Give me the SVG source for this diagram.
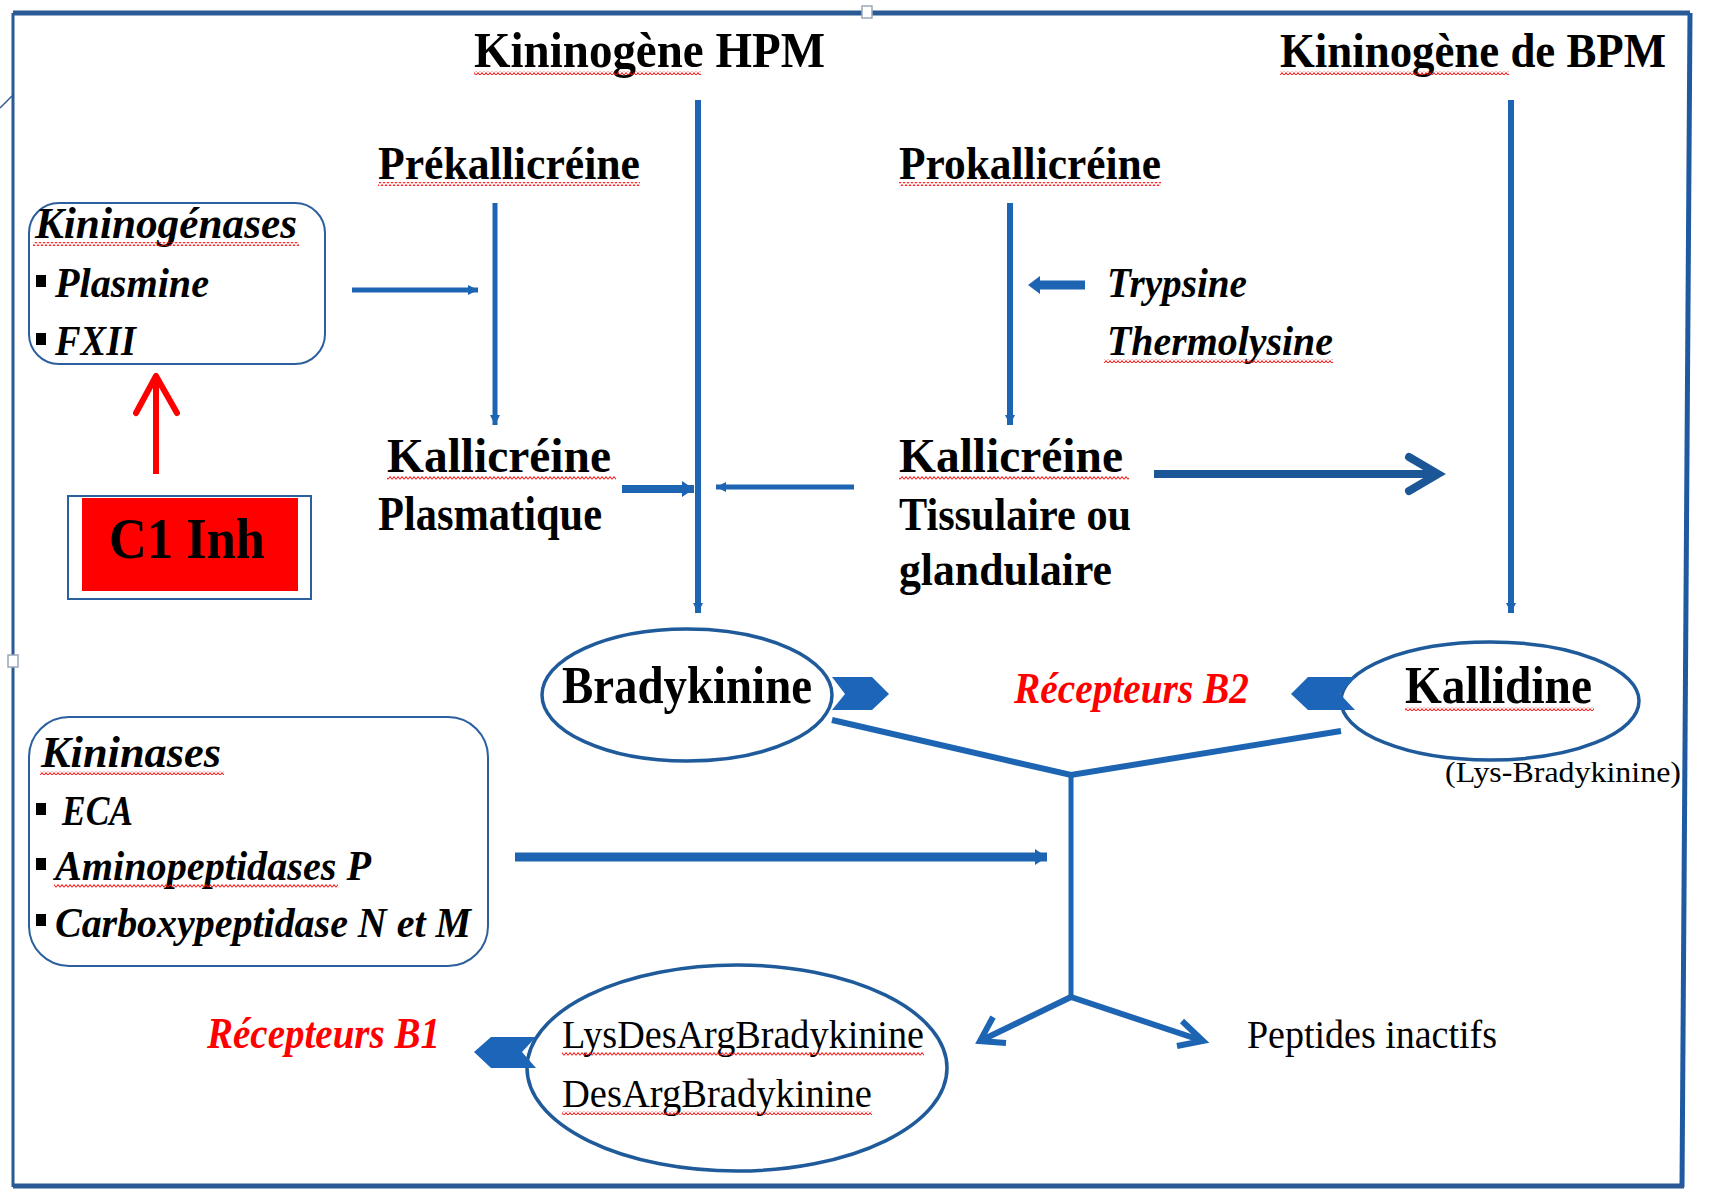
<svg xmlns="http://www.w3.org/2000/svg" width="1710" height="1197" viewBox="0 0 1710 1197">
<style>
.b{font-family:"Liberation Serif",serif;font-weight:bold;fill:#000}
.bi{font-family:"Liberation Serif",serif;font-weight:bold;font-style:italic;fill:#000}
.r{font-family:"Liberation Serif",serif;fill:#000}
.red{fill:#ff0000}
.con{stroke:#1d65b2;fill:none;stroke-linecap:butt}
.box{fill:none;stroke:#2b5f9e;stroke-width:2}
.ell{fill:#fff;stroke:#1f5a9a;stroke-width:3.5}
.rec{fill:#1d65b9}
.sq{fill:url(#squig)}
.bul{fill:#000}
</style>
<defs>
<pattern id="squig" patternUnits="userSpaceOnUse" width="4" height="4">
<polyline points="0,3.5 2,0.5 4,3.5" fill="none" stroke="#ff0000" stroke-width="1"/>
</pattern>
<marker id="tip" markerUnits="userSpaceOnUse" markerWidth="14" markerHeight="14" viewBox="0 0 14 14" refX="10" refY="7" orient="auto">
<path d="M0,2 L10,7 L0,12 z" fill="#1d65b2"/>
</marker>
<marker id="tip2" markerUnits="userSpaceOnUse" markerWidth="18" markerHeight="18" viewBox="0 0 18 18" refX="12" refY="9" orient="auto">
<path d="M0,1 L12,9 L0,17 z" fill="#1d65b2"/>
</marker>
</defs>
<rect width="1710" height="1197" fill="#fff"/>

<g id="frame">
<line x1="13" y1="13" x2="1690" y2="13" stroke="#2a5a96" stroke-width="5"/>
<line x1="13" y1="13" x2="13" y2="1187" stroke="#2a5a96" stroke-width="3"/>
<line x1="1690" y1="13" x2="1682" y2="1187" stroke="#1f5aa0" stroke-width="5"/>
<line x1="13" y1="1186" x2="1684" y2="1186" stroke="#2a5a96" stroke-width="5"/>
<rect x="862" y="6" width="10" height="12" fill="#fff" stroke="#9aa8b8" stroke-width="1.5"/>
<rect x="8" y="655" width="10" height="12" fill="#fff" stroke="#9aa8b8" stroke-width="1.5"/>
<line x1="0" y1="108" x2="12" y2="96" stroke="#2a5a96" stroke-width="1.5"/>
</g>

<g id="connectors">
<line class="con" x1="698" y1="100" x2="698" y2="613" stroke-width="6" marker-end="url(#tip)"/>
<line class="con" x1="1511" y1="100" x2="1511" y2="613" stroke-width="6" marker-end="url(#tip)"/>
<line class="con" x1="495" y1="203" x2="495" y2="425" stroke-width="5" marker-end="url(#tip)"/>
<line class="con" x1="1010" y1="203" x2="1010" y2="425" stroke-width="6" marker-end="url(#tip)"/>
<line class="con" x1="352" y1="290" x2="478" y2="290" stroke-width="5" marker-end="url(#tip)"/>
<line class="con" x1="1085" y1="285" x2="1036" y2="285" stroke-width="9"/>
<path d="M1028,285 L1040,276 L1040,294 z" fill="#1d65b2"/>
<line class="con" x1="622" y1="489" x2="694" y2="489" stroke-width="8" marker-end="url(#tip2)"/>
<line class="con" x1="854" y1="487" x2="716" y2="487" stroke-width="5" marker-end="url(#tip)"/>
<line x1="1154" y1="474" x2="1436" y2="474" stroke="#1b5797" stroke-width="8"/>
<polyline points="1409,457 1438,474 1409,491" fill="none" stroke="#1b5797" stroke-width="8" stroke-linecap="round" stroke-linejoin="miter"/>
<line class="con" x1="515" y1="857" x2="1047" y2="857" stroke-width="9" marker-end="url(#tip2)"/>
<polyline class="con" points="832,720 1071,775 1341,731" stroke-width="6" stroke-linejoin="miter"/>
<line class="con" x1="1071" y1="775" x2="1071" y2="997" stroke-width="5"/>
<polyline class="con" points="1071,997 980,1041" stroke-width="6"/>
<polyline class="con" points="993,1017 980,1041 1006,1043" stroke-width="6" stroke-linecap="round"/>
<polyline class="con" points="1071,997 1203,1041" stroke-width="6"/>
<polyline class="con" points="1182,1021 1203,1041 1177,1046" stroke-width="6" stroke-linecap="round"/>
<line x1="156" y1="474" x2="156" y2="380" stroke="#ff0000" stroke-width="6"/>
<polyline points="136,413 156,376 177,413" fill="none" stroke="#ff0000" stroke-width="6" stroke-linecap="round" stroke-linejoin="round"/>
</g>

<g id="kininogene-hpm">
<text class="b" x="474" y="67" font-size="50" textLength="351" lengthAdjust="spacingAndGlyphs">Kininogène HPM</text>
<rect class="sq" x="474" y="71" width="227" height="4"/>
</g>
<g id="kininogene-bpm">
<text class="b" x="1280" y="67" font-size="49" textLength="386" lengthAdjust="spacingAndGlyphs">Kininogène de BPM</text>
<rect class="sq" x="1280" y="71" width="229" height="4"/>
</g>
<g id="prekallicreine">
<text class="b" x="378" y="179" font-size="47" textLength="262" lengthAdjust="spacingAndGlyphs">Prékallicréine</text>
<rect class="sq" x="378" y="182" width="262" height="4"/>
</g>
<g id="prokallicreine">
<text class="b" x="899" y="179" font-size="47" textLength="262" lengthAdjust="spacingAndGlyphs">Prokallicréine</text>
<rect class="sq" x="899" y="182" width="262" height="4"/>
</g>
<g id="kininogenases">
<rect class="box" x="29" y="203" width="296" height="161" rx="30"/>
<text class="bi" x="35" y="238" font-size="44" textLength="262" lengthAdjust="spacingAndGlyphs">Kininogénases</text>
<rect class="sq" x="33" y="242" width="266" height="4"/>
<rect class="bul" x="36" y="275" width="10" height="12"/>
<text class="bi" x="55" y="297" font-size="42" textLength="154" lengthAdjust="spacingAndGlyphs">Plasmine</text>
<rect class="bul" x="36" y="333" width="10" height="12"/>
<text class="bi" x="55" y="355" font-size="42" textLength="81" lengthAdjust="spacingAndGlyphs">FXII</text>
</g>
<g id="trypsine">
<text class="bi" x="1107" y="297" font-size="42" textLength="140" lengthAdjust="spacingAndGlyphs">Trypsine</text>
<text class="bi" x="1107" y="355" font-size="42" textLength="226" lengthAdjust="spacingAndGlyphs">Thermolysine</text>
<rect class="sq" x="1104" y="359" width="229" height="4"/>
</g>
<g id="kallicreine-plasmatique">
<text class="b" x="387" y="472" font-size="48" textLength="224" lengthAdjust="spacingAndGlyphs">Kallicréine</text>
<rect class="sq" x="387" y="476" width="229" height="4"/>
<text class="b" x="378" y="530" font-size="48" textLength="224" lengthAdjust="spacingAndGlyphs">Plasmatique</text>
</g>
<g id="kallicreine-tissulaire">
<text class="b" x="899" y="472" font-size="48" textLength="224" lengthAdjust="spacingAndGlyphs">Kallicréine</text>
<rect class="sq" x="899" y="476" width="230" height="4"/>
<text class="b" x="899" y="530" font-size="46" textLength="232" lengthAdjust="spacingAndGlyphs">Tissulaire ou</text>
<text class="b" x="899" y="585" font-size="46" textLength="213" lengthAdjust="spacingAndGlyphs">glandulaire</text>
</g>
<g id="c1inh">
<rect x="68" y="496" width="243" height="103" fill="#fff" stroke="#2b5f9e" stroke-width="2"/>
<rect x="82" y="498" width="216" height="93" fill="#ff0000"/>
<text class="b" x="109" y="558" font-size="56" textLength="156" lengthAdjust="spacingAndGlyphs">C1 Inh</text>
<rect class="sq" x="180" y="562" width="90" height="4"/>
</g>
<g id="bradykinine">
<ellipse class="ell" cx="687" cy="695" rx="145" ry="66"/>
<text class="b" x="562" y="703" font-size="52" textLength="250" lengthAdjust="spacingAndGlyphs">Bradykinine</text>
<polygon class="rec" points="832,677 872,677 889,694 872,710 832,710 845,694"/>
</g>
<g id="recepteurs-b2">
<text class="bi red" x="1014" y="703" font-size="44" textLength="235" lengthAdjust="spacingAndGlyphs">Récepteurs B2</text>
</g>
<g id="kallidine">
<ellipse class="ell" cx="1490" cy="701" rx="149" ry="59"/>
<polygon class="rec" points="1291,694 1308,677 1355,677 1340,694 1355,710 1308,710"/>
<text class="b" x="1405" y="703" font-size="52" textLength="187" lengthAdjust="spacingAndGlyphs">Kallidine</text>
<rect class="sq" x="1405" y="707" width="189" height="4"/>
<text class="r" x="1445" y="782" font-size="30" textLength="236" lengthAdjust="spacingAndGlyphs">(Lys-Bradykinine)</text>
</g>
<g id="kininases">
<rect class="box" x="29" y="717" width="459" height="249" rx="40"/>
<text class="bi" x="41" y="767" font-size="44" textLength="180" lengthAdjust="spacingAndGlyphs">Kininases</text>
<rect class="sq" x="40" y="771" width="184" height="4"/>
<rect class="bul" x="36" y="803" width="10" height="12"/>
<text class="bi" x="62" y="825" font-size="42" textLength="71" lengthAdjust="spacingAndGlyphs">ECA</text>
<rect class="bul" x="36" y="858" width="10" height="12"/>
<text class="bi" x="55" y="880" font-size="42" textLength="316" lengthAdjust="spacingAndGlyphs">Aminopeptidases P</text>
<rect class="sq" x="54" y="884" width="284" height="4"/>
<rect class="bul" x="36" y="914" width="10" height="12"/>
<text class="bi" x="55" y="937" font-size="42" textLength="416" lengthAdjust="spacingAndGlyphs">Carboxypeptidase N et M</text>
</g>
<g id="recepteurs-b1">
<text class="bi red" x="207" y="1048" font-size="44" textLength="233" lengthAdjust="spacingAndGlyphs">Récepteurs B1</text>
</g>
<g id="desarg">
<ellipse class="ell" cx="737" cy="1068" rx="210" ry="103"/>
<polygon class="rec" points="474,1052 491,1037 536,1037 522,1052 536,1068 491,1068"/>
<text class="r" x="562" y="1048" font-size="41" textLength="362" lengthAdjust="spacingAndGlyphs">LysDesArgBradykinine</text>
<rect class="sq" x="562" y="1052" width="362" height="4"/>
<text class="r" x="562" y="1107" font-size="41" textLength="310" lengthAdjust="spacingAndGlyphs">DesArgBradykinine</text>
<rect class="sq" x="562" y="1111" width="310" height="4"/>
</g>
<g id="peptides-inactifs">
<text class="r" x="1247" y="1048" font-size="41" textLength="250" lengthAdjust="spacingAndGlyphs">Peptides inactifs</text>
</g>
</svg>
